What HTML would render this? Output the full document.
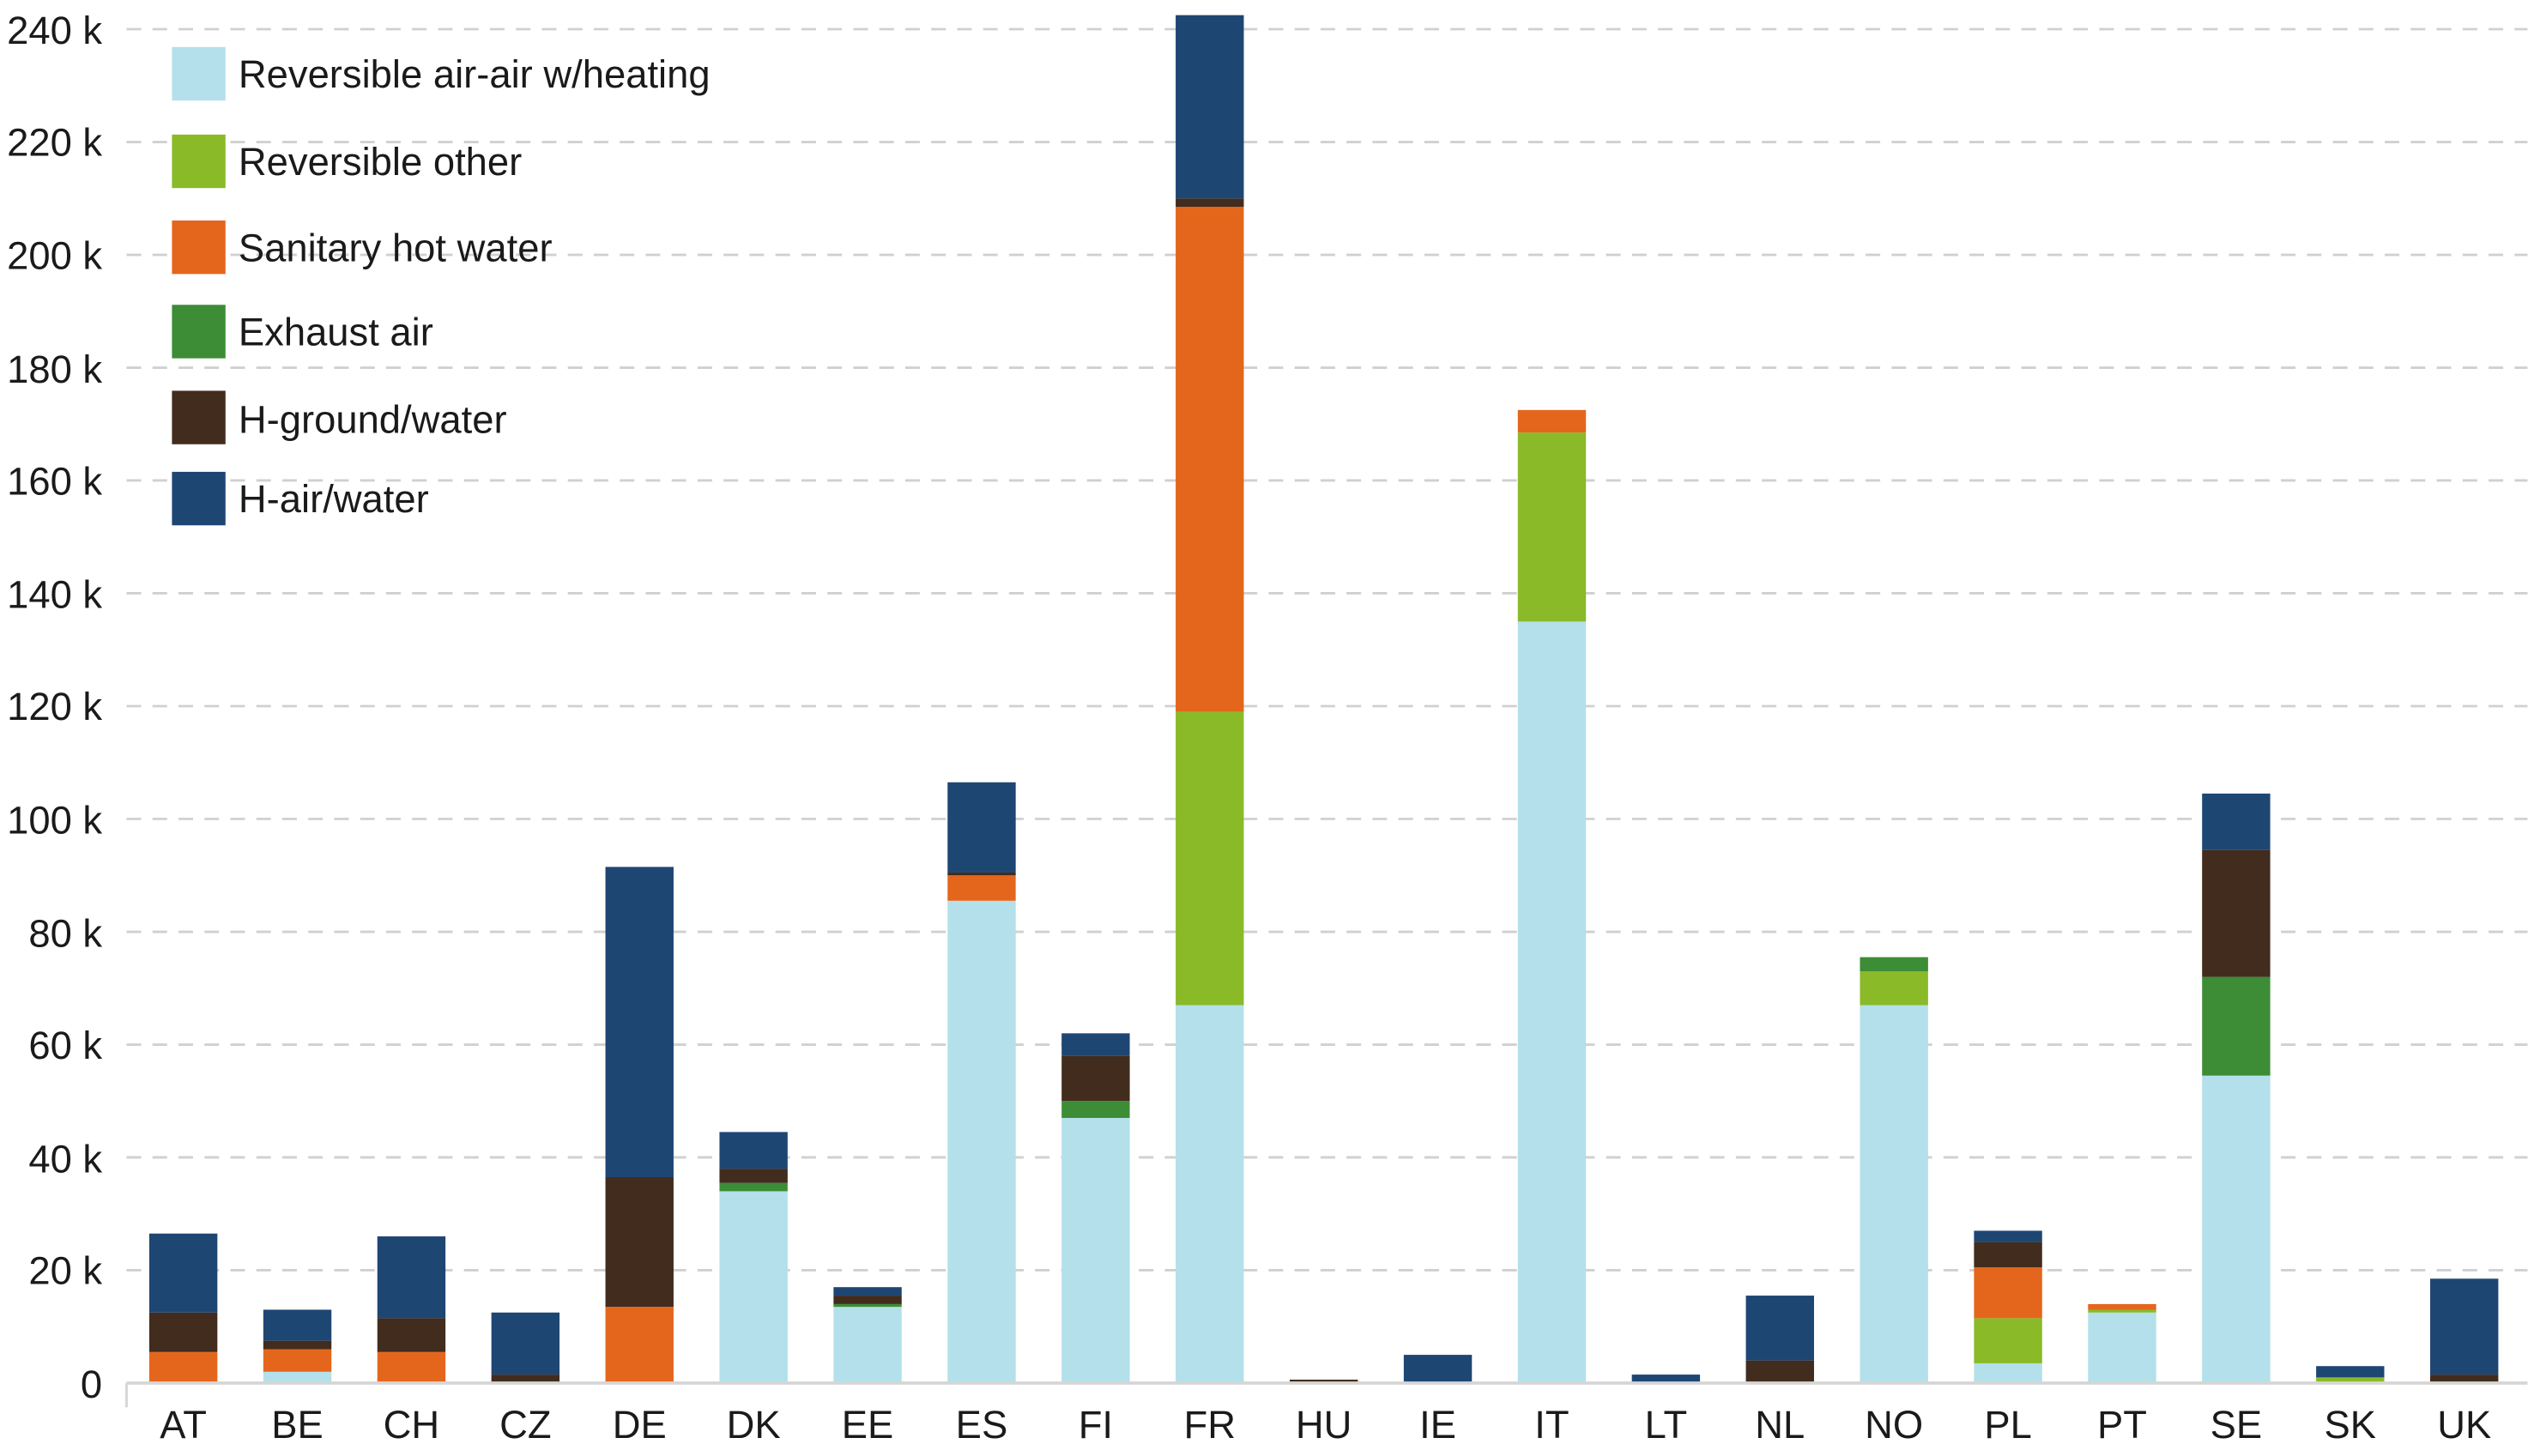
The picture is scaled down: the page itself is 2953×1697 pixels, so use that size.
<!DOCTYPE html>
<html><head><meta charset="utf-8"><style>
html,body{margin:0;padding:0;background:#fff;}
svg{display:block;}
text{font-family:"Liberation Sans Narrow","Liberation Sans",sans-serif;fill:#1a1a1a;}
</style></head><body>
<svg id="c" width="2953" height="1697" viewBox="0 0 1562 898" preserveAspectRatio="none" xmlns="http://www.w3.org/2000/svg">
<g stroke="#d0d0d0" stroke-width="1.5" stroke-dasharray="9,7">
<line x1="78" x2="1558" y1="18" y2="18"/><line x1="78" x2="1558" y1="87.6" y2="87.6"/>
<line x1="78" x2="1558" y1="157.2" y2="157.2"/><line x1="78" x2="1558" y1="226.8" y2="226.8"/>
<line x1="78" x2="1558" y1="296.3" y2="296.3"/><line x1="78" x2="1558" y1="365.9" y2="365.9"/>
<line x1="78" x2="1558" y1="435.5" y2="435.5"/><line x1="78" x2="1558" y1="505.1" y2="505.1"/>
<line x1="78" x2="1558" y1="574.7" y2="574.7"/><line x1="78" x2="1558" y1="644.3" y2="644.3"/>
<line x1="78" x2="1558" y1="713.8" y2="713.8"/><line x1="78" x2="1558" y1="783.4" y2="783.4"/>
</g>
<g font-size="24" text-anchor="end">
<text x="63" y="27">240 k</text><text x="63" y="96">220 k</text><text x="63" y="166">200 k</text>
<text x="63" y="236">180 k</text><text x="63" y="305">160 k</text><text x="63" y="375">140 k</text>
<text x="63" y="444">120 k</text><text x="63" y="514">100 k</text><text x="63" y="584">80 k</text>
<text x="63" y="653">60 k</text><text x="63" y="723">40 k</text><text x="63" y="792">20 k</text>
<text x="63" y="862">0</text>
</g>
<g id="bars"></g>
<line x1="78" x2="1558" y1="853" y2="853" stroke="#d6d6d6" stroke-width="2"/>
<line x1="78" x2="78" y1="853" y2="868" stroke="#d6d6d6" stroke-width="1.5"/>
<g id="xl" font-size="24" text-anchor="middle">
<text>AT</text><text>BE</text><text>CH</text><text>CZ</text><text>DE</text><text>DK</text>
<text>EE</text><text>ES</text><text>FI</text><text>FR</text><text>HU</text><text>IE</text>
<text>IT</text><text>LT</text><text>NL</text><text>NO</text><text>PL</text><text>PT</text>
<text>SE</text><text>SK</text><text>UK</text>
</g>
<g>
<rect x="106" y="29" width="33" height="33" fill="#b3e0ea"/>
<rect x="106" y="83" width="33" height="33" fill="#8aba28"/>
<rect x="106" y="136" width="33" height="33" fill="#e4661c"/>
<rect x="106" y="188" width="33" height="33" fill="#3d8c36"/>
<rect x="106" y="241" width="33" height="33" fill="#422c1d"/>
<rect x="106" y="291" width="33" height="33" fill="#1e4673"/>
</g>
<g font-size="24">
<text x="147" y="54">Reversible air-air w/heating</text>
<text x="147" y="108">Reversible other</text>
<text x="147" y="161">Sanitary hot water</text>
<text x="147" y="213">Exhaust air</text>
<text x="147" y="267">H-ground/water</text>
<text x="147" y="316">H-air/water</text>
</g>
</svg>
<script>
var cols=["#b3e0ea","#8aba28","#e4661c","#3d8c36","#422c1d","#1e4673"];
var d=[
[0,0,5.5,5.5,12.5,26.5],
[2,2,6,6,7.5,13],
[0,0,5.5,5.5,11.5,26],
[0,0,0,0,1.5,12.5],
[0,0,13.5,13.5,36.5,91.5],
[34,34,34,35.5,38,44.5],
[13.5,13.5,13.5,14,15.5,17],
[85.5,85.5,90,90,90.5,106.5],
[47,47,47,50,58,62],
[67,119,208.5,208.5,210,242.5],
[0,0,0,0,0.6,0.6],
[0,0,0,0,0,5],
[135,168.5,172.5,172.5,172.5,172.5],
[0,0,0,0,0,1.5],
[0,0,0,0,4,15.5],
[67,73,73,75.5,75.5,75.5],
[3.5,11.5,20.5,20.5,25,27],
[12.5,13,14,14,14,14],
[54.5,54.5,54.5,72,94.5,104.5],
[0,1,1,1,1,3],
[0,0,0,0,1.5,18.5]
];
var g=document.getElementById("bars"),s="",Y=function(v){return 853-v*3.479;};
d.forEach(function(b,k){var cx=113+k*70.3,prev=0;b.forEach(function(t,i){if(t>prev){s+='<rect x="'+(cx-21)+'" y="'+Y(t)+'" width="42" height="'+((t-prev)*3.479)+'" fill="'+cols[i]+'"/>';}prev=Math.max(prev,t);});});
g.innerHTML=s;
var ts=document.getElementById("xl").getElementsByTagName("text");
for(var i=0;i<ts.length;i++){ts[i].setAttribute("x",113+i*70.3);ts[i].setAttribute("y",887);}
</script>
</body></html>
